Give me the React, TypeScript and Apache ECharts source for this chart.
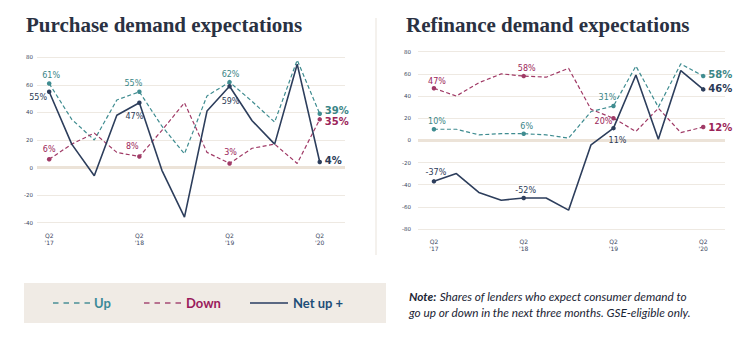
import React, { useEffect, useRef } from "react";
import * as echarts from "echarts";

// ---- data ----
const quarters = ["Q2 '17", "Q3 '17", "Q4 '17", "Q1 '18", "Q2 '18", "Q3 '18", "Q4 '18", "Q1 '19", "Q2 '19", "Q3 '19", "Q4 '19", "Q1 '20", "Q2 '20"];
const tickIndex = [0, 4, 8, 12];
const tickLabels = ["Q2\n'17", "Q2\n'18", "Q2\n'19", "Q2\n'20"];

const purchaseUp = [61, 35, 20, 49, 55, 30, 10, 52, 62, 48, 33, 78, 39];
const purchaseDown = [6, 17, 25, 11, 8, 27, 47, 11, 3, 14, 17, 3, 35];
const purchaseNet = [55, 17, -6, 38, 47, -2, -36, 41, 59, 34, 17, 75, 4];

const refiUp = [10, 10, 5, 6, 6, 5, 2, 26, 31, 67, 30, 69, 58];
const refiDown = [47, 40, 52, 60, 58, 57, 65, 28, 20, 8, 29, 7, 12];
const refiNet = [-37, -30, -47, -54, -52, -52, -63, -4, 11, 59, 1, 63, 46];

const purchaseTicks = [-40, -20, 0, 20, 40, 60, 80];
const refiTicks = [-80, -60, -40, -20, 0, 20, 40, 60, 80];

const labeled = [0, 4, 8, 12];

// ---- styles ----
const TEAL = "#3f8c90";
const TEAL_TXT = "#3a8586";
const CRIMSON = "#a03a66";
const CRIMSON_TXT = "#9b2458";
const NAVY = "#2d3e5c";
const NAVY_TXT = "#2b3a56";
const GRID = "#eee9e2";
const ZERO = "#ece3d8";
const AXIS_TXT = "#3a4660";

type Place = { dx: number; dy: number; align?: string; end?: boolean };

const placements: Record<string, Record<number, Place>> = {
  pUp: { 0: { dx: 2, dy: -7.5 }, 4: { dx: -6, dy: -8 }, 8: { dx: 1, dy: -8 }, 12: { dx: 5, dy: -3, align: "left", end: true } },
  pDown: { 0: { dx: 0, dy: -10 }, 4: { dx: -7, dy: -10 }, 8: { dx: 1, dy: -10.5 }, 12: { dx: 5, dy: 2.5, align: "left", end: true } },
  pNet: { 0: { dx: -11, dy: 6 }, 4: { dx: -5, dy: 14 }, 8: { dx: 1, dy: 15 }, 12: { dx: 5, dy: -2, align: "left", end: true } },
  rUp: { 0: { dx: 3, dy: -7.5 }, 4: { dx: 3, dy: -7 }, 8: { dx: -6, dy: -8.5 }, 12: { dx: 5, dy: -2, align: "left", end: true } },
  rDown: { 0: { dx: 3, dy: -7 }, 4: { dx: 3, dy: -8 }, 8: { dx: -10, dy: 3 }, 12: { dx: 5, dy: 0, align: "left", end: true } },
  rNet: { 0: { dx: 2, dy: -8.5 }, 4: { dx: 2, dy: -7 }, 8: { dx: 4, dy: 12 }, 12: { dx: 5, dy: -1, align: "left", end: true } },
};

function makeSeries(
  key: string,
  name: string,
  values: number[],
  gridIndex: number,
  color: string,
  txtColor: string,
  dashed: boolean,
  zeroLine: boolean
) {
  const pl = placements[key];
  const data = values.map((v, i) => {
    const isLab = labeled.indexOf(i) >= 0;
    if (!isLab) return { value: [i, v], symbol: "none", symbolSize: 0 };
    const p = pl[i];
    return {
      value: [i, v],
      symbol: "circle",
      symbolSize: 4.5,
      label: {
        show: true,
        position: "inside",
        offset: [p.dx, p.dy],
        align: p.align || "center",
        verticalAlign: "middle",
        color: txtColor,
        fontFamily: "DejaVu Sans",
        fontSize: p.end ? 10 : 8,
        lineHeight: p.end ? 10 : 9,
        fontWeight: p.end ? "bold" : "normal",
      },
    };
  });
  const s: any = {
    type: "line",
    name,
    xAxisIndex: gridIndex,
    yAxisIndex: gridIndex,
    data,
    showSymbol: true,
    showAllSymbol: true,
    itemStyle: { color },
    lineStyle: { color, width: dashed ? 1.2 : 1.6, type: dashed ? [4, 2.5] : "solid" },
    label: { show: false, formatter: (p: any) => p.value[1] + "%" },
    z: 3,
  };
  if (zeroLine) {
    s.markLine = {
      silent: true,
      symbol: "none",
      z: 1,
      label: { show: false },
      lineStyle: { color: ZERO, width: 3, type: "solid" },
      data: [{ yAxis: 0 }],
    };
  }
  return s;
}

function xAxisFor(gridIndex: number, min: number, max: number) {
  return {
    type: "value",
    gridIndex,
    min,
    max,
    axisLine: { show: false },
    axisTick: { show: false },
    splitLine: { show: false },
    axisLabel: {
      customValues: tickIndex,
      formatter: (v: number) => tickLabels[tickIndex.indexOf(v)] || "",
      fontSize: 6,
      lineHeight: 7,
      color: AXIS_TXT,
      fontFamily: "DejaVu Sans",
      margin: 9,
    },
  };
}

function yAxisFor(gridIndex: number, ticks: number[], margin: number) {
  return {
    type: "value",
    gridIndex,
    min: ticks[0],
    max: ticks[ticks.length - 1],
    interval: 20,
    axisLine: { show: false },
    axisTick: { show: false },
    splitLine: { show: true, lineStyle: { color: GRID, width: 1 } },
    axisLabel: { fontSize: 5.5, color: AXIS_TXT, fontFamily: "DejaVu Sans", margin },
  };
}

export default function App() {
  const ref = useRef<HTMLDivElement>(null);
  useEffect(() => {
    document.body.style.margin = "0";
    const chart = echarts.init(ref.current!, undefined, { renderer: "svg" });
    const option: any = {
      animation: false,
      backgroundColor: "#ffffff",
      grid: [
        { left: 37, width: 308, top: 57.3, height: 165.4 },
        { left: 418, width: 307, top: 51.7, height: 177.3 },
      ],
      xAxis: [xAxisFor(0, -0.54, 13.12), xAxisFor(1, -0.71, 12.97)],
      yAxis: [yAxisFor(0, purchaseTicks, 4), yAxisFor(1, refiTicks, 7)],
      series: [
        makeSeries("pUp", "Up", purchaseUp, 0, TEAL, TEAL_TXT, true, true),
        makeSeries("pDown", "Down", purchaseDown, 0, CRIMSON, CRIMSON_TXT, true, false),
        makeSeries("pNet", "Net up +", purchaseNet, 0, NAVY, NAVY_TXT, false, false),
        makeSeries("rUp", "Up", refiUp, 1, TEAL, TEAL_TXT, true, true),
        makeSeries("rDown", "Down", refiDown, 1, CRIMSON, CRIMSON_TXT, true, false),
        makeSeries("rNet", "Net up +", refiNet, 1, NAVY, NAVY_TXT, false, false),
      ],
      graphic: [
        {
          type: "text",
          left: 26,
          top: 14,
          style: { text: "Purchase demand expectations", fill: "#2a3142", font: "bold 21px 'Liberation Serif'" },
        },
        {
          type: "text",
          left: 406,
          top: 14,
          style: { text: "Refinance demand expectations", fill: "#2a3142", font: "bold 21px 'Liberation Serif'" },
        },
        { type: "line", shape: { x1: 376, y1: 18, x2: 376, y2: 255 }, style: { stroke: "#f1ede7", lineWidth: 1.5 } },
        { type: "rect", shape: { x: 24, y: 283, width: 362, height: 40 }, style: { fill: "#f0ebe5" } },
        { type: "line", shape: { x1: 53, y1: 303, x2: 92, y2: 303 }, style: { stroke: "#4a9096", lineWidth: 1.6, lineDash: [5.5, 5] } },
        { type: "text", x: 94, y: 303, style: { text: "Up", fill: "#3a8a98", font: "bold 13px Lato", verticalAlign: "middle", align: "left" } },
        { type: "line", shape: { x1: 144, y1: 303, x2: 183, y2: 303 }, style: { stroke: "#a54b74", lineWidth: 1.6, lineDash: [5.5, 5] } },
        { type: "text", x: 186, y: 303, style: { text: "Down", fill: "#9a1b5c", font: "bold 13px Lato", verticalAlign: "middle", align: "left" } },
        { type: "line", shape: { x1: 250, y1: 303, x2: 288, y2: 303 }, style: { stroke: "#5a6882", lineWidth: 2 } },
        { type: "text", x: 293, y: 303, style: { text: "Net up +", fill: "#1d4e78", font: "bold 13px Lato", verticalAlign: "middle", align: "left" } },
        {
          type: "text",
          x: 409,
          y: 289,
          style: {
            text: "{b|Note:} {n|Shares of lenders who expect consumer demand to}\n{n|go up or down in the next three months. GSE-eligible only.}",
            verticalAlign: "top",
            align: "left",
            lineHeight: 15.5,
            rich: {
              b: { fontFamily: "Lato", fontStyle: "italic", fontWeight: "bold", fontSize: 11.8, fill: "#1b2535", lineHeight: 15.5 },
              n: { fontFamily: "Lato", fontStyle: "italic", fontSize: 11.8, fill: "#1b2535", lineHeight: 15.5 },
            },
          },
        },
      ],
    };
    chart.setOption(option);
    return () => chart.dispose();
  }, []);
  return <div ref={ref} style={{ width: 755, height: 342 }} />;
}
